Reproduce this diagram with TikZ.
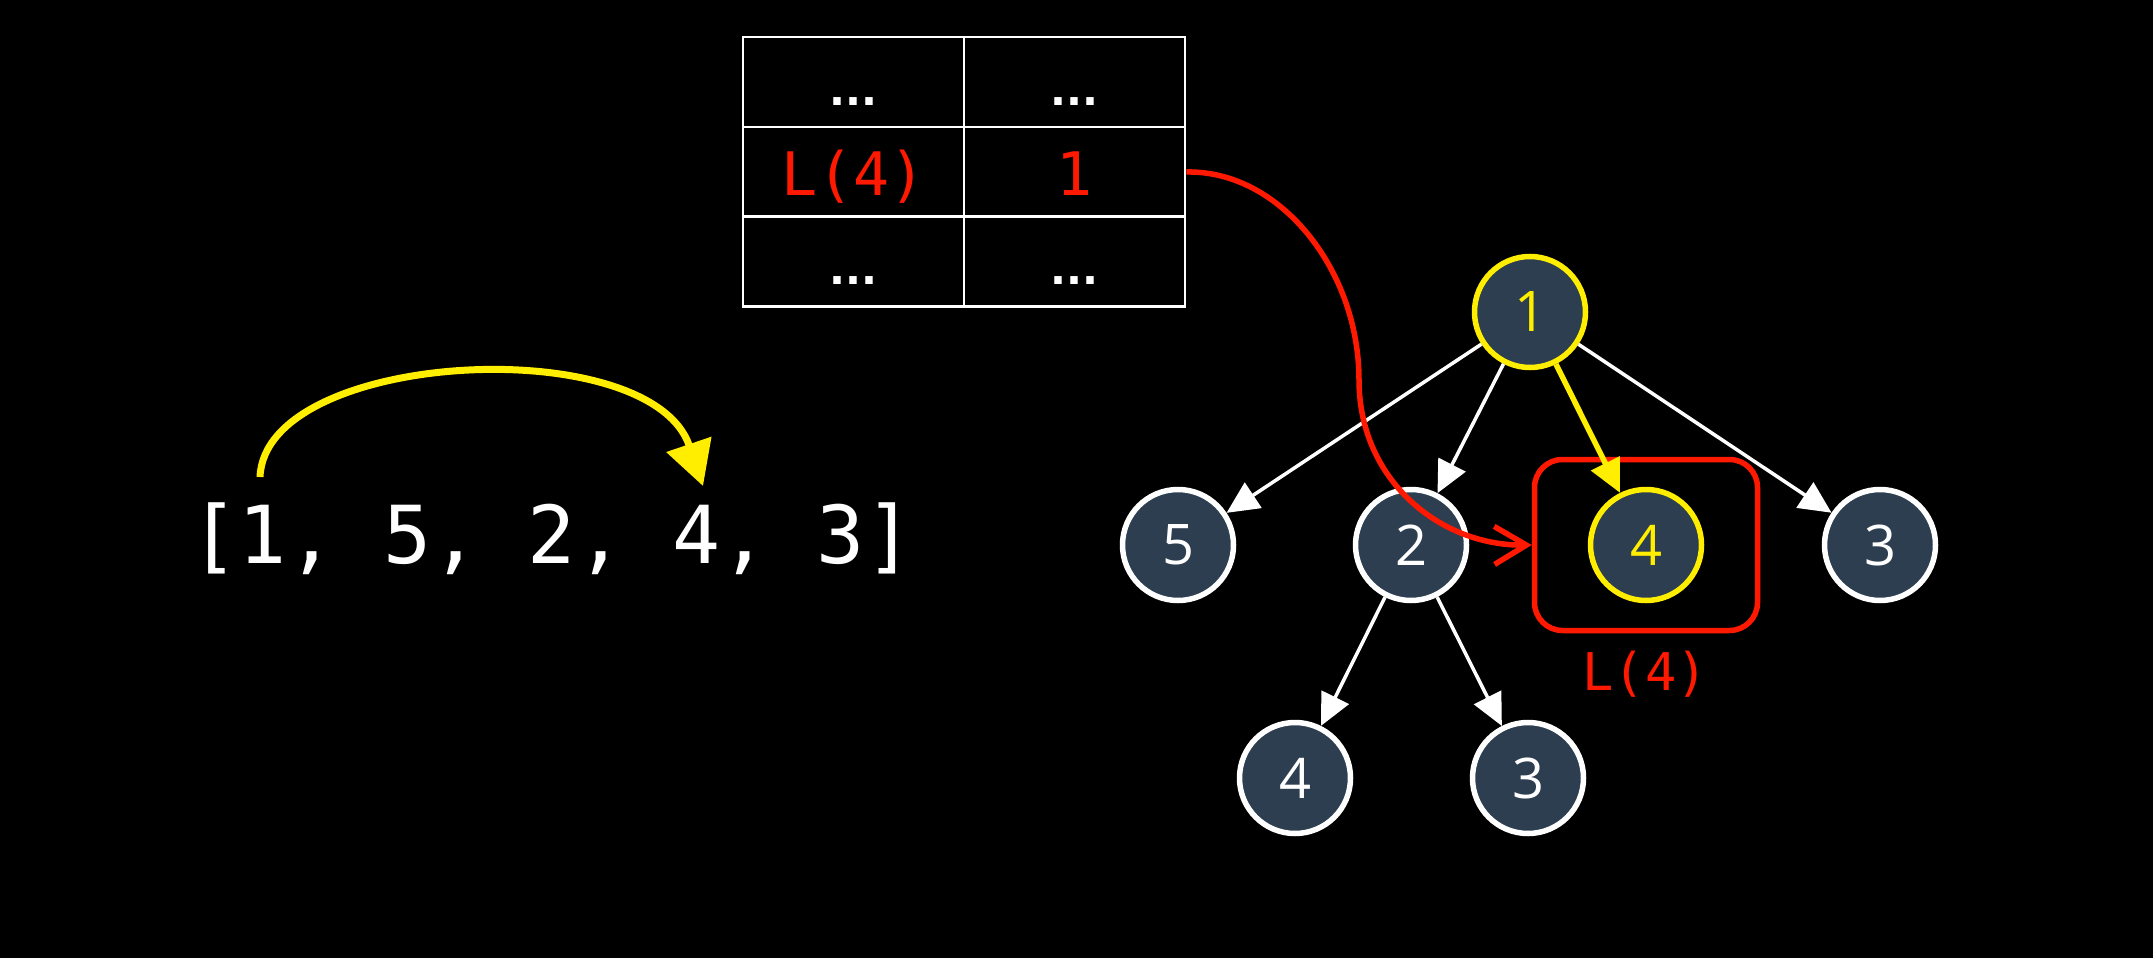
\documentclass[tikz,border=0pt]{standalone}
\usepackage{fontspec}
\newfontfamily\monofont{DejaVu Sans Mono}
\newfontfamily\dotfont{DejaVu Sans Bold}
\newfontfamily\treefont{Open Sans}
\usetikzlibrary{arrows.meta}
\definecolor{hlred}{RGB}{255,25,0}
\definecolor{hlyel}{RGB}{255,238,0}
\definecolor{nodefill}{RGB}{44,62,80}
\newcommand{\celldots}{{\dotfont\fontsize{42}{50}\selectfont ...}}
\begin{document}
\begin{tikzpicture}[x=1pt,y=-1pt,
  treenode/.style={circle, fill=nodefill, draw=white, line width=5.5pt, minimum size=111pt, inner sep=0pt, text=white, font=\treefont\fontsize{56}{66}\selectfont},
  hlnode/.style={treenode, draw=hlyel, text=hlyel},
  cell/.style={draw=white, line width=2.5pt, minimum width=221pt, minimum height=90pt, inner sep=0pt, text height=52pt, text depth=6pt, font=\monofont\fontsize{60}{72}\selectfont, text=white},
  redcell/.style={cell, text=hlred},
  edgew/.style={draw=white, line width=3.5pt, -{Triangle[length=32pt,width=30pt]}},
  edgey/.style={draw=hlyel, line width=5.5pt, -{Triangle[length=33pt,width=31pt]}},
]
\fill[black] (0,0) rectangle (2153,958);
\useasboundingbox (0,0) rectangle (2153,958);

% table
\node[cell] (ta) at (853.5,82) {\celldots};
\node[cell] (tb) at (1074.5,82) {\celldots};
\node[redcell] (tc) at (853.5,172) {L(4)};
\node[redcell] (td) at (1074.5,172) {1};
\node[cell] (te) at (853.5,261.5) {\celldots};
\node[cell] (tf) at (1074.5,261.5) {\celldots};

% array
\node[font=\monofont\fontsize{80}{96}\selectfont, text=white, anchor=base] (arr) at (552,563) {[1, 5, 2, 4, 3]};
\coordinate (arcS) at (260,477);
\coordinate (arcE) at (703,486);
\draw[hlyel, line width=7pt, -{Triangle[length=44pt,width=46pt]}] (arcS) .. controls (265,350) and (650,330) .. (arcE);

% tree
\node[hlnode] (n1) at (1530,312) {1};
\node[treenode] (n5) at (1178,545) {5};
\node[treenode] (n2) at (1411,545) {2};
\node[hlnode] (n4) at (1646,545) {4};
\node[treenode] (n3) at (1880,545) {3};
\node[treenode] (m4) at (1295,778) {4};
\node[treenode] (m3) at (1528,778) {3};

\draw[edgew] (n1) -- (n5);
\draw[edgew] (n1) -- (n2);
\draw[edgew] (n1) -- (n3);
\draw[edgew] (n2) -- (m4);
\draw[edgew] (n2) -- (m3);

\node[draw=hlred, line width=5.5pt, rounded corners=28pt, minimum width=223pt, minimum height=171pt] (box) at (1646,545) {};
\node[font=\monofont\fontsize{52}{62}\selectfont, text=hlred, anchor=base] (lbl) at (1645,690) {L(4)};

\draw[edgey] (n1) -- (n4);

\draw[hlred, line width=5.5pt, -{Straight Barb[length=32pt,width=38pt]}] (td.east) .. controls (1280,170) and (1359,270) .. (1359,380) .. controls (1359,480) and (1440,546) .. (box.west);
\end{tikzpicture}
\end{document}
